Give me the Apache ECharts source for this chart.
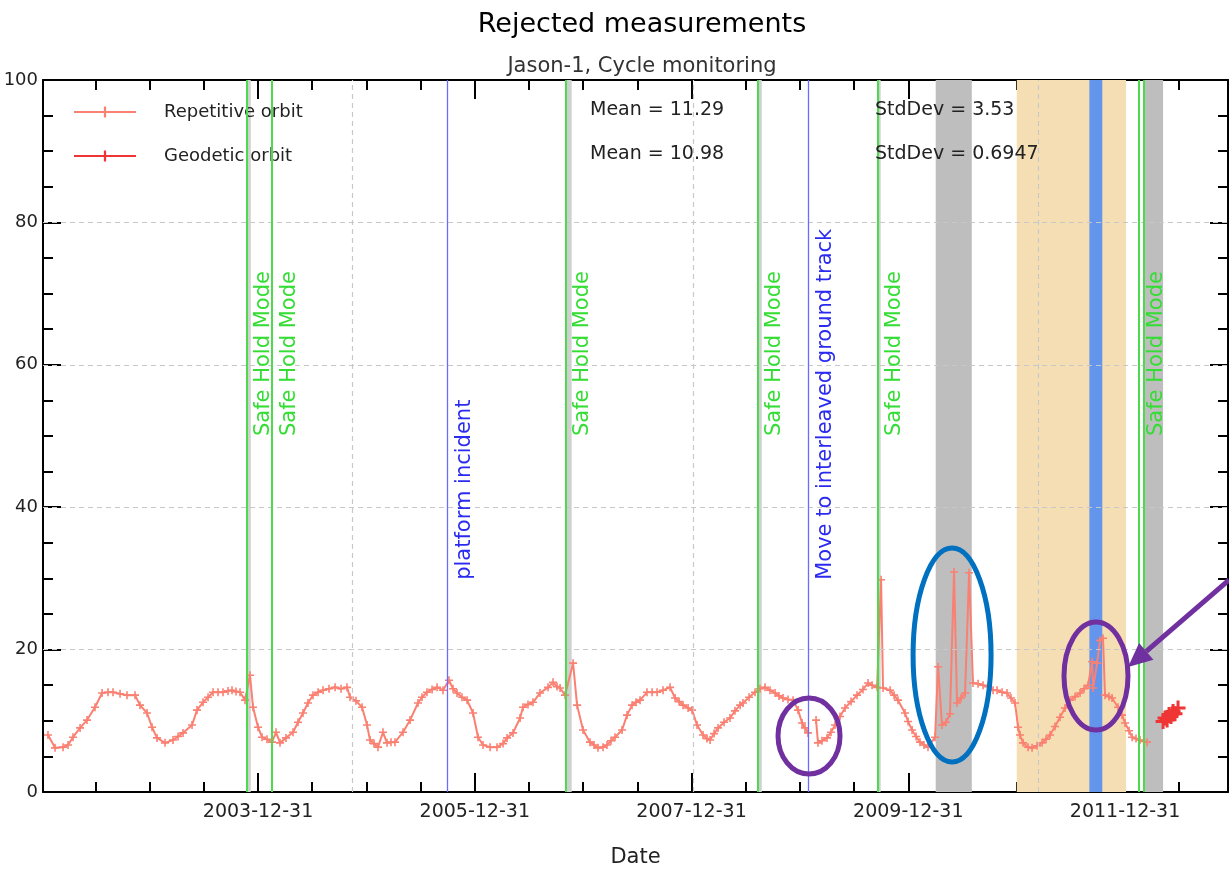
<!DOCTYPE html>
<html>
<head>
<meta charset="utf-8">
<title>Rejected measurements</title>
<script src="https://cdn.jsdelivr.net/npm/echarts@6/dist/echarts.min.js"></script>
<style>
  html, body { margin: 0; padding: 0; background: #fff; }
  #chart { width: 1229px; height: 871px; }
</style>
</head>
<body>
<div id="chart"></div>
<script>
// dates are decimal years
const repDates = [
  2002.062, 2002.127, 2002.201, 2002.247, 2002.293, 2002.358, 2002.422, 2002.496, 2002.561, 2002.616,
  2002.662, 2002.727, 2002.791, 2002.865, 2002.911, 2002.976, 2003.022, 2003.068, 2003.142, 2003.216,
  2003.262, 2003.308, 2003.391, 2003.437, 2003.493, 2003.539, 2003.585, 2003.631, 2003.677, 2003.723,
  2003.760, 2003.797, 2003.834, 2003.880, 2003.926, 2003.954, 2004.000, 2004.037, 2004.083, 2004.129,
  2004.166, 2004.203, 2004.258, 2004.323, 2004.369, 2004.415, 2004.461, 2004.507, 2004.554, 2004.600,
  2004.655, 2004.711, 2004.766, 2004.821, 2004.849, 2004.904, 2004.960, 2005.006, 2005.033, 2005.070,
  2005.107, 2005.153, 2005.190, 2005.227, 2005.264, 2005.338, 2005.403, 2005.476, 2005.513, 2005.559,
  2005.606, 2005.652, 2005.707, 2005.762, 2005.799, 2005.836, 2005.882, 2005.929, 2005.984, 2006.030,
  2006.076, 2006.141, 2006.205, 2006.261, 2006.298, 2006.353, 2006.418, 2006.445, 2006.491, 2006.537,
  2006.602, 2006.676, 2006.722, 2006.759, 2006.787, 2006.833, 2006.907, 2006.944, 2006.999, 2007.063,
  2007.100, 2007.137, 2007.183, 2007.220, 2007.257, 2007.294, 2007.359, 2007.405, 2007.451, 2007.488,
  2007.525, 2007.589, 2007.636, 2007.682, 2007.737, 2007.802, 2007.848, 2007.885, 2007.922, 2007.968,
  2008.005, 2008.051, 2008.106, 2008.143, 2008.171, 2008.208, 2008.245, 2008.300, 2008.355, 2008.401,
  2008.448, 2008.475, 2008.531, 2008.586, 2008.632, 2008.678, 2008.724, 2008.771, 2008.807, 2008.844,
  2008.890, 2008.937, 2008.983, 2009.020, 2009.047, 2009.075, 2009.080, 2009.149, 2009.167, 2009.204,
  2009.250, 2009.287, 2009.324, 2009.370, 2009.416, 2009.472, 2009.527, 2009.582, 2009.629, 2009.666,
  2009.712, 2009.749, 2009.767, 2009.832, 2009.869, 2009.905, 2009.970, 2009.998, 2010.035, 2010.072,
  2010.108, 2010.145, 2010.182, 2010.247, 2010.275, 2010.311, 2010.348, 2010.385, 2010.422, 2010.450,
  2010.487, 2010.524, 2010.561, 2010.597, 2010.644, 2010.690, 2010.736, 2010.782, 2010.819, 2010.865,
  2010.911, 2010.948, 2010.985, 2011.013, 2011.031, 2011.059, 2011.105, 2011.142, 2011.188, 2011.234,
  2011.271, 2011.308, 2011.354, 2011.400, 2011.446, 2011.493, 2011.539, 2011.585, 2011.622, 2011.659,
  2011.696, 2011.705, 2011.742, 2011.769, 2011.797, 2011.815, 2011.852, 2011.880, 2011.935, 2011.972,
  2012.000, 2012.037, 2012.065, 2012.101, 2012.138, 2012.175, 2012.203
];
const repValues = [
  8.0, 6.2, 6.3, 6.6, 7.7, 9.0, 10.1, 11.9, 13.9, 14.0,
  14.0, 13.8, 13.6, 13.6, 12.2, 11.1, 9.1, 7.6, 6.9, 7.3,
  7.8, 8.3, 9.4, 11.5, 12.6, 13.3, 14.0, 14.0, 14.0, 14.2,
  14.3, 14.1, 14.0, 12.9, 16.4, 11.9, 9.1, 7.7, 7.4, 7.0,
  8.4, 6.9, 7.6, 8.4, 9.8, 11.1, 12.5, 13.6, 14.0, 14.3,
  14.5, 14.7, 14.5, 14.7, 13.3, 12.8, 11.9, 9.4, 7.3, 6.8,
  6.3, 8.4, 6.9, 7.0, 7.0, 8.4, 10.1, 12.5, 13.3, 14.0,
  14.4, 14.7, 14.3, 15.7, 14.5, 13.9, 13.3, 12.9, 11.1, 7.7,
  6.6, 6.3, 6.3, 6.8, 7.6, 8.3, 10.4, 11.9, 12.3, 12.6,
  13.9, 14.7, 15.4, 14.8, 14.6, 13.6, 18.1, 12.2, 8.7, 7.0,
  6.6, 6.2, 6.3, 6.6, 7.2, 7.7, 8.7, 10.8, 12.2, 12.6,
  12.9, 14.0, 14.0, 14.0, 14.3, 14.7, 13.2, 12.7, 12.2, 11.8,
  11.5, 9.4, 8.0, 7.5, 7.3, 8.2, 9.0, 9.8, 10.4, 11.4,
  12.2, 12.5, 13.3, 14.0, 14.5, 14.7, 14.3, 13.9, 13.5, 13.2,
  13.0, 12.9, 11.5, 9.7, 9.0, 8.3, null, 10.1, 6.9, 7.2,
  7.6, 8.4, 9.4, 10.6, 11.8, 12.7, 13.6, 14.4, 15.3, 15.0,
  14.7, 29.8, 14.6, 14.3, 13.6, 12.9, 11.1, 9.9, 8.7, 7.8,
  7.0, 6.6, 6.3, 7.7, 17.6, 9.4, 9.8, 11.0, 30.9, 12.5,
  13.2, 13.9, 30.8, 15.3, 15.2, 15.0, 14.8, 14.3, 14.3, 14.0,
  13.9, 13.2, 12.5, 9.1, 8.0, 6.9, 6.3, 6.2, 6.5, 6.9,
  7.4, 8.0, 9.2, 10.5, 11.8, 12.9, 13.4, 13.9, 14.5, 15.0,
  18.3, 14.6, 18.1, 21.3, 21.6, 13.6, 13.4, 13.2, 11.9, 10.8,
  9.7, 8.6, 7.7, 7.5, 7.3, 7.1, 7.0
];
const geoDates = [2012.351, 2012.369, 2012.388, 2012.406, 2012.424, 2012.443, 2012.461, 2012.489];
const geoValues = [9.9, 10.4, 10.1, 10.9, 10.6, 11.3, 11.0, 11.8];

const seriesNames = ['Repetitive orbit', 'Geodetic orbit'];
const meanTexts = ['11.29', '10.98'];
const stdDevTexts = ['3.53', '0.6947'];

// events
const safeHoldDates = [2003.896, 2004.132, 2006.839, 2008.607, 2009.718, 2012.132, 2012.175];
const safeHoldLabelDates = [2003.896, 2004.132, 2006.839, 2008.607, 2009.718, 2012.132];
const blueEventDates = [2005.750, 2009.078];
const blueEventLabels = ['platform incident', 'Move to interleaved ground track'];
const smallGrayAreas = [[2003.896, 2003.933], [2006.839, 2006.894], [2008.607, 2008.648], [2009.718, 2009.745]];
const grayAreas = [[2010.253, 2010.586], [2012.175, 2012.351]];
const wheatArea = [2011.001, 2012.009];
const blueArea = [2011.671, 2011.790];
const dashedGridDates = [2004.867, 2008.023, 2011.197];
const dashedGridValues = [20, 40, 60, 80];

// axis ticks
const xMin = 2002.016;
const xMax = 2012.950;
const majorXTicks = [2004, 2006, 2008, 2010, 2012];
const minorXTicks = [2002.5, 2003, 2003.5, 2004, 2004.5, 2005, 2005.5, 2006, 2006.5, 2007, 2007.5,
  2008, 2008.5, 2009, 2009.5, 2010, 2010.5, 2011, 2011.5, 2012, 2012.5];

const crossPath = 'path://M-1,-5H1V-1H5V1H1V5H-1V1H-5V-1H-1Z';
const FONT = 'DejaVu Sans';

const chart = echarts.init(document.getElementById('chart'));

const repData = repDates.map((d, i) => [d, repValues[i] === null ? '-' : repValues[i]]);
const geoData = geoDates.map((d, i) => [d, geoValues[i]]);

function xAxisBase(position, tickValues, tickLen, showLine) {
  return {
    type: 'value',
    position: position,
    min: xMin,
    max: xMax,
    axisLine: { show: showLine, onZero: false, lineStyle: { color: '#000', width: 2 } },
    axisTick: { show: true, inside: true, length: tickLen, customValues: tickValues, lineStyle: { color: '#000', width: 2 } },
    axisLabel: { show: false },
    splitLine: { show: false }
  };
}

const xMainBottom = xAxisBase('bottom', majorXTicks, 19, true);
xMainBottom.axisLabel = {
  show: true,
  customValues: majorXTicks,
  margin: 11,
  fontSize: 19,
  color: '#222',
  fontFamily: FONT,
  formatter: v => (Math.round(v) - 1) + '-12-31'
};
xMainBottom.name = 'Date';
xMainBottom.nameLocation = 'middle';
xMainBottom.nameGap = 55;
xMainBottom.nameTextStyle = { fontSize: 21, color: '#222', fontFamily: FONT };

function yAxisBase(position, showLabel) {
  return {
    type: 'value',
    position: position,
    min: 0,
    max: 100,
    interval: 20,
    axisLine: { show: true, onZero: false, lineStyle: { color: '#000', width: 2 } },
    axisTick: { show: true, inside: true, length: 18, lineStyle: { color: '#000', width: 2 } },
    minorTick: { show: true, splitNumber: 4, length: 10, lineStyle: { color: '#000', width: 2 } },
    axisLabel: { show: showLabel, fontSize: 18, color: '#222', margin: 5, fontFamily: FONT },
    splitLine: { show: false }
  };
}
const yLeft = yAxisBase('left', true);
yLeft.name = '(%)';
yLeft.nameLocation = 'middle';
yLeft.nameRotate = 90;
yLeft.nameGap = 8;
yLeft.nameTextStyle = { fontSize: 28, color: '#000', fontFamily: FONT };

const bandAreas = []
  .concat(smallGrayAreas.map(a => [{ xAxis: a[0], itemStyle: { color: '#d0d0d0' } }, { xAxis: a[1] }]))
  .concat(grayAreas.map(a => [{ xAxis: a[0], itemStyle: { color: '#bebebe' } }, { xAxis: a[1] }]))
  .concat([[{ xAxis: wheatArea[0], itemStyle: { color: '#f5deb3' } }, { xAxis: wheatArea[1] }]])
  .concat([[{ xAxis: blueArea[0], itemStyle: { color: '#6495ed' } }, { xAxis: blueArea[1] }]]);

const eventLines = []
  .concat(dashedGridDates.map(d => ({ xAxis: d, lineStyle: { color: '#c8c8c8', width: 1.2, type: [5, 4] } })))
  .concat(dashedGridValues.map(v => ({ yAxis: v, lineStyle: { color: '#c8c8c8', width: 1.2, type: [5, 4] } })))
  .concat(safeHoldDates.map(d => ({ xAxis: d, lineStyle: { color: '#4ddb4d', width: 2, type: 'solid' } })))
  .concat(blueEventDates.map(d => ({ xAxis: d, lineStyle: { color: '#6b6bff', width: 1.3, type: 'solid' } })));

chart.setOption({
  animation: false,
  backgroundColor: '#fff',
  textStyle: { fontFamily: FONT },
  title: [
    { text: 'Rejected measurements', left: 637, top: 6, textAlign: 'center',
      textStyle: { fontSize: 27, fontWeight: 'normal', color: '#000', fontFamily: FONT } },
    { text: 'Jason-1, Cycle monitoring', left: 637, top: 51, textAlign: 'center',
      textStyle: { fontSize: 21, fontWeight: 'normal', color: '#333', fontFamily: FONT } }
  ],
  legend: {
    data: seriesNames,
    orient: 'vertical',
    left: 68,
    top: 98,
    itemWidth: 62,
    itemHeight: 14,
    itemGap: 26,
    textStyle: { fontSize: 18, color: '#222', fontFamily: FONT, padding: [0, 0, 0, 23] }
  },
  grid: { left: 43, right: 1, top: 80, bottom: 79, containLabel: false, outerBoundsMode: 'none' },
  xAxis: [
    xMainBottom,
    xAxisBase('top', majorXTicks, 19, true),
    xAxisBase('bottom', minorXTicks, 10, false),
    xAxisBase('top', minorXTicks, 10, false)
  ],
  yAxis: [yLeft, yAxisBase('right', false)],
  series: [
    {
      type: 'line', name: 'bands', data: [], z: 1, silent: true,
      markArea: { silent: true, data: bandAreas }
    },
    {
      type: 'line', name: 'events', data: [], z: 2, silent: true,
      markLine: { silent: true, symbol: ['none', 'none'], label: { show: false }, data: eventLines }
    },
    {
      type: 'line', name: seriesNames[0], data: repData, z: 3,
      xAxisIndex: 0, yAxisIndex: 0,
      connectNulls: false,
      symbol: crossPath, symbolSize: 8, showAllSymbol: true,
      itemStyle: { color: '#fa8072' },
      lineStyle: { color: '#fa8072', width: 2 }
    },
    {
      type: 'line', name: seriesNames[1], data: geoData, z: 4,
      xAxisIndex: 0, yAxisIndex: 0,
      symbol: crossPath, symbolSize: 15,
      itemStyle: { color: '#f03535' },
      lineStyle: { color: '#f03535', width: 3 }
    }
  ]
});

// text labels, stats and annotations placed from data coordinates
function toPx(x, y) {
  return chart.convertToPixel({ seriesIndex: 2 }, [x, y]);
}

const graphics = [];

function vLabel(date, yVal, text, color) {
  const p = toPx(date, yVal);
  graphics.push({
    type: 'text', x: p[0] + 17, y: p[1], rotation: Math.PI / 2, silent: true, z: 50,
    style: { text: text, fill: color, font: '21px "DejaVu Sans"',
      align: 'left', textAlign: 'left', verticalAlign: 'middle', textVerticalAlign: 'middle' }
  });
}
safeHoldLabelDates.forEach(d => vLabel(d, 50, 'Safe Hold Mode', '#33dd33'));
blueEventDates.forEach((d, i) => vLabel(d, 29.8, blueEventLabels[i], '#2b2bf0'));

seriesNames.forEach((n, i) => {
  const y = 110 + i * 44;
  graphics.push({
    type: 'text', x: 590, y: y, silent: true, z: 50,
    style: { text: 'Mean = ' + meanTexts[i], fill: '#222', font: '19px "DejaVu Sans"',
      align: 'left', textAlign: 'left', verticalAlign: 'middle', textVerticalAlign: 'middle' }
  });
  graphics.push({
    type: 'text', x: 875, y: y, silent: true, z: 50,
    style: { text: 'StdDev = ' + stdDevTexts[i], fill: '#222', font: '19px "DejaVu Sans"',
      align: 'left', textAlign: 'left', verticalAlign: 'middle', textVerticalAlign: 'middle' }
  });
});

function ellipse(date, val, rx, ry, color) {
  const c = toPx(date, val);
  graphics.push({
    type: 'ellipse', silent: true, z: 60,
    shape: { cx: c[0], cy: c[1], rx: rx, ry: ry },
    style: { fill: 'none', stroke: color, lineWidth: 5 }
  });
}
ellipse(2009.084, 7.87, 31, 38, '#7030a0');
ellipse(2010.404, 19.24, 39, 107, '#0070c0');
ellipse(2011.732, 16.29, 32, 54, '#7030a0');

// arrow
(function () {
  const s = toPx(2012.960, 29.78);
  const e = toPx(2012.028, 17.56);
  const dx = e[0] - s[0], dy = e[1] - s[1];
  const len = Math.sqrt(dx * dx + dy * dy);
  const ux = dx / len, uy = dy / len;
  const headLen = 24, headHalf = 11;
  const bx = e[0] - ux * headLen, by = e[1] - uy * headLen;
  graphics.push({
    type: 'line', silent: true, z: 60,
    shape: { x1: s[0], y1: s[1], x2: bx, y2: by },
    style: { stroke: '#7030a0', lineWidth: 5 }
  });
  graphics.push({
    type: 'polygon', silent: true, z: 60,
    shape: { points: [[e[0], e[1]], [bx - uy * headHalf, by + ux * headHalf], [bx + uy * headHalf, by - ux * headHalf]] },
    style: { fill: '#7030a0' }
  });
})();

chart.setOption({ graphic: graphics });
</script>
</body>
</html>
